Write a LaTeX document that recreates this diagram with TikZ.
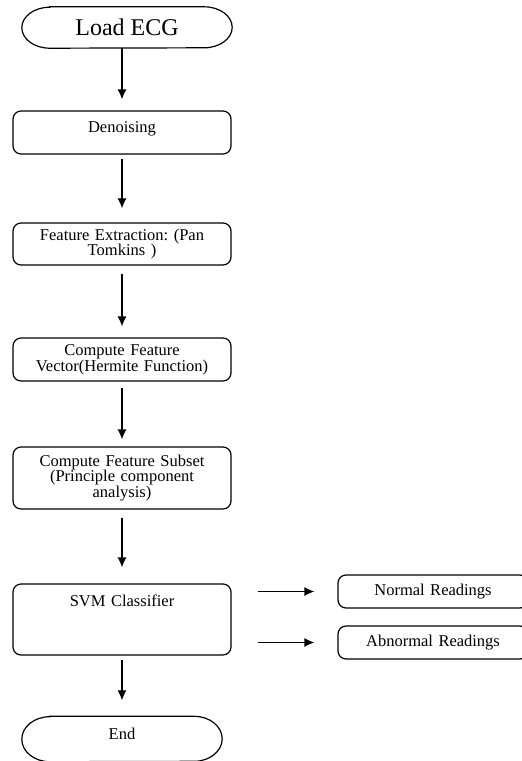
\documentclass[tikz,border=0pt]{standalone}
\usepackage{fontspec}
\setmainfont{Liberation Serif}
\usetikzlibrary{arrows.meta}
\frenchspacing

\begin{document}
\begin{tikzpicture}[x=1pt,y=-1pt,
    box/.style={draw, line width=1.2pt, rounded corners=8pt, minimum width=218pt,
      text width=205pt, align=center, inner sep=2pt,
      font=\fontsize{16.5}{15.8}\selectfont},
    outbox/.style={box, minimum width=190pt, text width=180pt, minimum height=33pt},
    terminal/.style={align=center, inner sep=0pt},
    flow/.style={line width=1.3pt, -{Latex[length=10pt,width=9pt]}}]
  \useasboundingbox (0,0) rectangle (522,761);

  % main column
  \node[terminal, minimum width=210pt, minimum height=41pt,
    font=\fontsize{24}{24}\selectfont] (load) at (127,27.5) {Load ECG};
  \node[box, minimum height=43pt, text height=10pt, text depth=10pt] (denoise) at (122,132.5) {Denoising};
  \node[box, minimum height=42pt] (extract) at (122,244) {Feature Extraction: (Pan\\ Tomkins )};
  \node[box, minimum height=43pt] (vector) at (122,359.5) {Compute Feature\\ Vector(Hermite Function)};
  \node[box, minimum height=62pt] (subset) at (122,478) {Compute Feature Subset\\ (Principle component\\ analysis)};
  \node[box, minimum height=71pt, text height=10pt, text depth=36pt] (svm) at (122,619.5) {SVM Classifier};
  \node[terminal, minimum width=200pt, minimum height=45pt, text height=10pt, text depth=10pt,
    font=\fontsize{16.5}{15.8}\selectfont] (finish) at (122,739) {End};

  % outputs
  \node[outbox] (normal) at (433,591.5) {Normal Readings};
  \node[outbox] (abnormal) at (433,642.5) {Abnormal Readings};

  % start / end outlines
  \foreach \t/\r in {load/20.5, finish/22.5}
    \draw[line width=1.2pt] ([xshift=28pt]\t.north west) -- ([xshift=-28pt]\t.north east)
      arc[start angle=90, end angle=-90, x radius=28pt, y radius=\r pt]
      -- ([xshift=28pt]\t.south west)
      arc[start angle=270, end angle=90, x radius=28pt, y radius=\r pt] -- cycle;

  % arrows
  \draw[flow, shorten >=11pt] (load.south -| denoise) -- (denoise.north);
  \foreach \a/\b/\s/\e in {denoise/extract/4/14, extract/vector/8/11, vector/subset/6/7,
      subset/svm/8/16, svm/finish/4/16}
    \draw[flow, shorten <=\s pt, shorten >=\e pt] (\a.south) -- (\b.north);
  \foreach \o in {normal, abnormal}
    \draw[flow, shorten <=26pt, shorten >=23pt] (svm.east |- \o.west) -- (\o.west);
\end{tikzpicture}
\end{document}
